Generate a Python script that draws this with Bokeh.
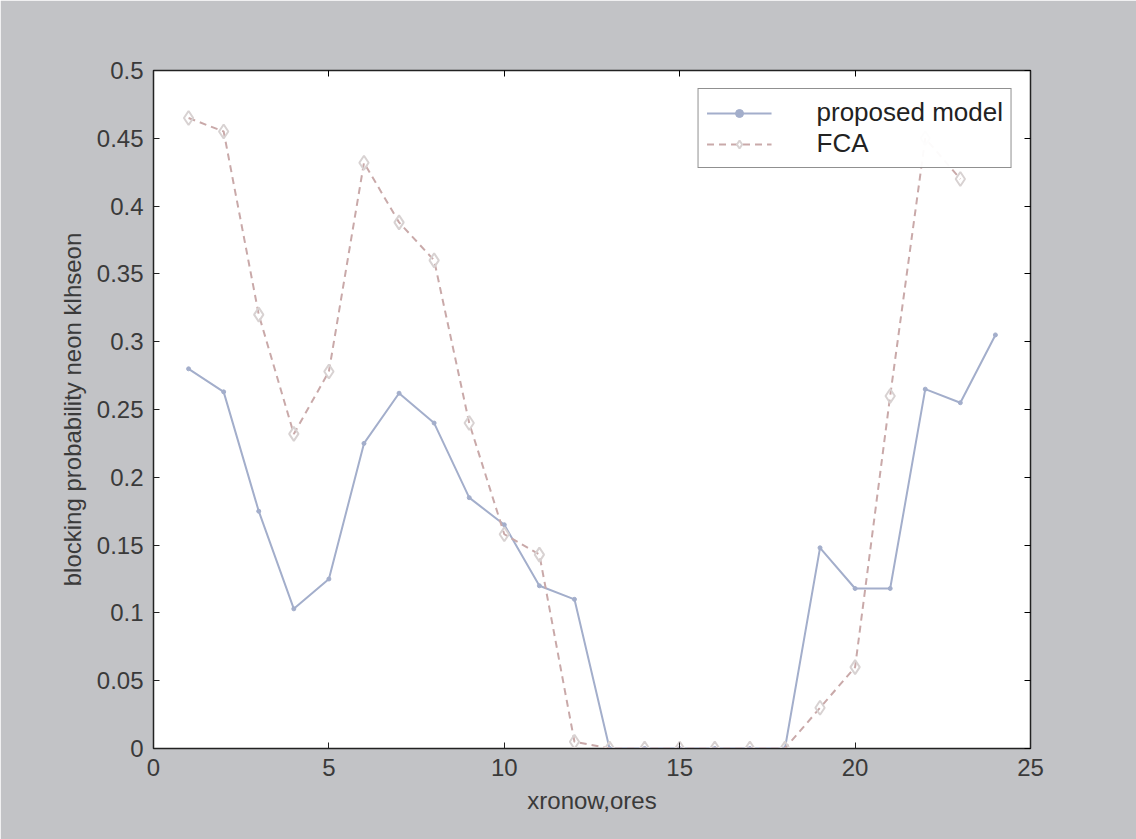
from bokeh.plotting import figure
from bokeh.models import ColumnDataSource, LinearAxis, Legend, LegendItem, FixedTicker, Range1d
from bokeh.embed import file_html
from bokeh.resources import INLINE

x_prop = list(range(1, 25))
proposed = [0.280, 0.263, 0.175, 0.103, 0.125, 0.225, 0.262, 0.240, 0.185, 0.165, 0.120, 0.110,
            0.0, 0.0, 0.0, 0.0, 0.0, 0.0, 0.148, 0.118, 0.118, 0.265, 0.255, 0.305]
x_fca = list(range(1, 24))
fca = [0.465, 0.455, 0.320, 0.232, 0.278, 0.432, 0.388, 0.360, 0.240, 0.158, 0.143, 0.005,
       0.0, 0.0, 0.0, 0.0, 0.0, 0.0, 0.030, 0.060, 0.260, 0.450, 0.420]
x_ticks = [0, 5, 10, 15, 20, 25]
y_ticks = [0, 0.05, 0.1, 0.15, 0.2, 0.25, 0.3, 0.35, 0.4, 0.45, 0.5]

FONT = "Liberation Sans"
BG = "#c2c3c6"
TXT = "#3a3a3a"

p = figure(width=1136, height=839, output_backend="svg", toolbar_location=None,
           x_range=Range1d(0, 25), y_range=Range1d(0, 0.5),
           min_border_left=153, min_border_right=106, min_border_top=70, min_border_bottom=91)
p.background_fill_color = "white"
p.border_fill_color = BG
p.outline_line_color = "#222222"
p.outline_line_width = 1.5
p.grid.visible = False

src_p = ColumnDataSource(dict(x=x_prop, y=proposed))
src_f = ColumnDataSource(dict(x=x_fca, y=fca))

pc = "#a3aecb"
fc = "#c9a9a9"
lp = p.line("x", "y", source=src_p, line_color=pc, line_width=2)
mp = p.scatter("x", "y", source=src_p, marker="circle", size=4, fill_color=pc, line_color=pc)
lf = p.line("x", "y", source=src_f, line_color=fc, line_width=2, line_dash="7 5")
mf = p.scatter("x", "y", source=src_f, marker="diamond", size=14, fill_color=None,
               line_color="#d8d2d2", line_width=2)

for ax in [p.xaxis[0], p.yaxis[0]]:
    ax.major_tick_in = 6
    ax.major_tick_out = 0
    ax.minor_tick_line_color = None
    ax.axis_line_color = "#222222"
    ax.major_tick_line_color = "#222222"
    ax.major_label_text_font = FONT
    ax.major_label_text_font_size = "24px"
    ax.major_label_text_color = TXT
    ax.axis_label_text_font = FONT
    ax.axis_label_text_font_size = "24px"
    ax.axis_label_text_font_style = "normal"
    ax.axis_label_text_color = TXT

p.xaxis[0].ticker = FixedTicker(ticks=x_ticks)
p.yaxis[0].ticker = FixedTicker(ticks=y_ticks)
p.xaxis[0].axis_label = "xronow,ores"
p.yaxis[0].axis_label = "blocking probability neon klhseon"
p.xaxis[0].major_label_standoff = 10
p.yaxis[0].major_label_standoff = 10
p.xaxis[0].axis_label_standoff = 8
p.yaxis[0].axis_label_standoff = 8

top = LinearAxis(ticker=FixedTicker(ticks=x_ticks),
                 major_label_overrides={t: "" for t in x_ticks},
                 major_tick_in=6, major_tick_out=0, minor_tick_line_color=None,
                 axis_line_color="#222222")
right = LinearAxis(ticker=FixedTicker(ticks=y_ticks),
                   major_label_overrides={t: "" for t in y_ticks},
                   major_tick_in=6, major_tick_out=0, minor_tick_line_color=None,
                   axis_line_color="#222222")
p.add_layout(top, "above")
p.add_layout(right, "right")

legend = Legend(items=[LegendItem(label="proposed model", renderers=[lp, mp]),
                       LegendItem(label="FCA", renderers=[lf, mf])],
                location="top_right")
legend.label_text_font = FONT
legend.label_text_font_size = "26px"
legend.label_text_color = "#222222"
legend.border_line_color = "#222222"
legend.border_line_width = 1.2
legend.glyph_width = 65
legend.label_standoff = 45
legend.spacing = -9
legend.padding = 8
legend.margin = 18
legend.label_height = 20
p.add_layout(legend)

open("out.html", "w").write(file_html(p, INLINE))
